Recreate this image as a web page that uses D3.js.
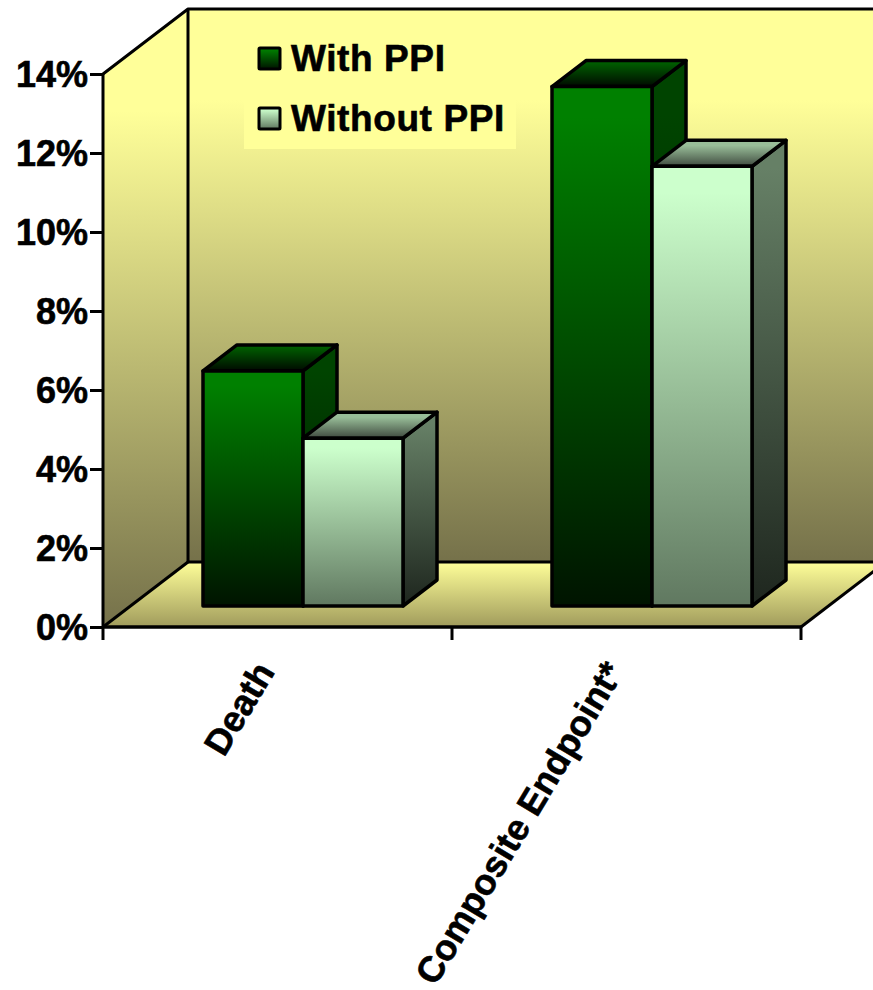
<!DOCTYPE html>
<html>
<head>
<meta charset="utf-8">
<style>
html,body{margin:0;padding:0;background:#fff;overflow:hidden}
svg{display:block}
text{font-family:"Liberation Sans",Arial,sans-serif;font-weight:bold;fill:#000;stroke:#000;stroke-width:0.6px}
</style>
<script src="https://cdnjs.cloudflare.com/ajax/libs/d3/7.8.5/d3.min.js"></script>
</head>
<body>
<div id="chart"></div>
<script>
// Chart data
const categories = ["Death", "Composite Endpoint*"];
const seriesNames = ["With PPI", "Without PPI"];
const withPPI = [5.95, 13.15];
const withoutPPI = [4.25, 11.13];
const yTicks = [0, 2, 4, 6, 8, 10, 12, 14];

const W = 873, H = 990;
const svg = d3.select("#chart").append("svg").attr("width", W).attr("height", H);
const defs = svg.append("defs");

// Plot frame and oblique projection
const plot = {left: 103, right: 801, bottom: 627, top: 74};
const wall = {dx: 85, dy: -65};     // depth of the box
const seat = {dx: 27, dy: -21};     // where bars stand on the floor
const barDepth = {dx: 34, dy: -26}; // depth of each bar

const y = d3.scaleLinear().domain([0, 14]).range([plot.bottom, plot.top]);
const x = d3.scaleBand().domain(categories).range([plot.left, plot.right]);
const xInner = d3.scaleBand().domain(seriesNames).range([73, 273]);

function gradient(id, top, bottom, hold = 0) {
  const g = defs.append("linearGradient").attr("id", id)
    .attr("x1", 0).attr("y1", 0).attr("x2", 0).attr("y2", 1);
  g.append("stop").attr("offset", hold).attr("stop-color", top);
  g.append("stop").attr("offset", 1).attr("stop-color", bottom);
}
gradient("gWall", "#ffff99", "#75714a", 0.165);
gradient("gFloor", "#ffff99", "#a09b5c");
gradient("gFrontA", "#008000", "#001400", 0.06);
gradient("gSideA", "#004400", "#001400", 0.1);
gradient("gTopA", "#005c00", "#000a00", 0.1);
gradient("gFrontB", "#ccffcc", "#607860", 0.06);
gradient("gSideB", "#668066", "#1e261e", 0.06);
gradient("gTopB", "#98bd98", "#3f4a3f", 0.2);

const poly = pts => pts.map(p => p.join(",")).join(" ");
const edge = {stroke: "#000", "stroke-width": 3.5, "stroke-linejoin": "round"};
function face(pts, fill) {
  const sel = svg.append("polygon").attr("points", poly(pts)).attr("fill", fill);
  Object.entries(edge).forEach(([k, v]) => sel.attr(k, v));
  return sel;
}

// Box: back wall, left wall, floor
const backL = plot.left + wall.dx, backB = plot.bottom + wall.dy, backT = plot.top + wall.dy;
const backR = plot.right + wall.dx;
svg.append("polygon").attr("fill", "url(#gWall)")
  .attr("points", poly([[backL, backT], [backR, backT], [backR, backB], [backL, backB]]));
svg.append("polygon").attr("fill", "url(#gWall)")
  .attr("points", poly([[plot.left, plot.top], [backL, backT], [backL, backB], [plot.left, plot.bottom]]));
svg.append("polygon").attr("fill", "url(#gFloor)")
  .attr("points", poly([[plot.left, plot.bottom], [plot.right, plot.bottom], [backR, backB], [backL, backB]]));

const frame = svg.append("g").attr("fill", "none").attr("stroke", "#000").attr("stroke-width", 3)
  .attr("stroke-linejoin", "round");
frame.append("path").attr("d", d3.line()([[plot.left, plot.top], [backL, backT], [backR, backT]]));
frame.append("path").attr("d", d3.line()([[backL, backT], [backL, backB], [backR, backB]]));
frame.append("path").attr("d", d3.line()([[backL, backB], [plot.left, plot.bottom]]));
frame.append("path").attr("d", d3.line()([[plot.right, plot.bottom], [backR, backB]]));

// Legend panel
svg.append("rect").attr("x", 244).attr("y", 28).attr("width", 272).attr("height", 121).attr("fill", "#ffff99");

// Bars, drawn left to right so neighbours overlap the side faces
function drawBar(cat, name, value, front, side, top) {
  const x0 = x(cat) + xInner(name) + seat.dx;
  const x1 = x0 + xInner.bandwidth();
  const b = y(0) + seat.dy;
  const t = y(value) + seat.dy;
  const d = barDepth;
  face([[x1, t], [x1 + d.dx, t + d.dy], [x1 + d.dx, b + d.dy], [x1, b]], `url(#${side})`);
  face([[x0, t], [x0 + d.dx, t + d.dy], [x1 + d.dx, t + d.dy], [x1, t]], `url(#${top})`);
  face([[x0, t], [x1, t], [x1, b], [x0, b]], `url(#${front})`);
}
categories.forEach((c, i) => {
  drawBar(c, seriesNames[0], withPPI[i], "gFrontA", "gSideA", "gTopA");
  drawBar(c, seriesNames[1], withoutPPI[i], "gFrontB", "gSideB", "gTopB");
});

// Value axis
const yAxis = d3.axisLeft(y).tickValues(yTicks).tickFormat(d => d + "%").tickSize(13).tickPadding(2);
const gy = svg.append("g").attr("transform", `translate(${plot.left},0)`).call(yAxis);
gy.selectAll("line").attr("stroke", "#000").attr("stroke-width", 3);
gy.select(".domain").attr("stroke", "#000").attr("stroke-width", 3).attr("d", `M0,${plot.top}V${plot.bottom}`);
gy.selectAll("text").attr("font-size", 36).attr("font-family", null).attr("dy", "0.36em");

// Category axis with ticks on the band boundaries
const xEdges = d3.scaleLinear().domain([0, categories.length]).range([plot.left, plot.right]);
const gx = svg.append("g").attr("transform", `translate(0,${plot.bottom})`);
gx.append("path").attr("d", `M${plot.left},0H${plot.right}`).attr("stroke", "#000").attr("stroke-width", 3.5);
gx.selectAll("line").data(d3.range(categories.length + 1)).join("line")
  .attr("x1", xEdges).attr("x2", xEdges).attr("y1", 0).attr("y2", 13)
  .attr("stroke", "#000").attr("stroke-width", 3);
gx.selectAll("text").data(categories).join("text")
  .attr("text-anchor", "end").attr("font-size", 36.2)
  .attr("transform", d => `translate(${x(d) + x.bandwidth() / 2 - 13},38) rotate(-59)`)
  .attr("dy", "0.36em")
  .text(d => d);

// Legend entries
const legendY = d3.scalePoint().domain(seriesNames).range([59, 119]);
const legendFill = d3.scaleOrdinal().domain(seriesNames).range(["url(#gFrontA)", "url(#gFrontB)"]);
const lg = svg.append("g").selectAll("g").data(seriesNames).join("g")
  .attr("transform", d => `translate(0,${legendY(d)})`);
lg.append("rect").attr("x", 259).attr("y", -11).attr("width", 21).attr("height", 21).attr("rx", 1)
  .attr("fill", d => legendFill(d)).attr("stroke", "#000").attr("stroke-width", 3);
lg.append("text").attr("x", 291).attr("y", 12).attr("font-size", 37).attr("letter-spacing", 0.6).text(d => d);
</script>
</body>
</html>
